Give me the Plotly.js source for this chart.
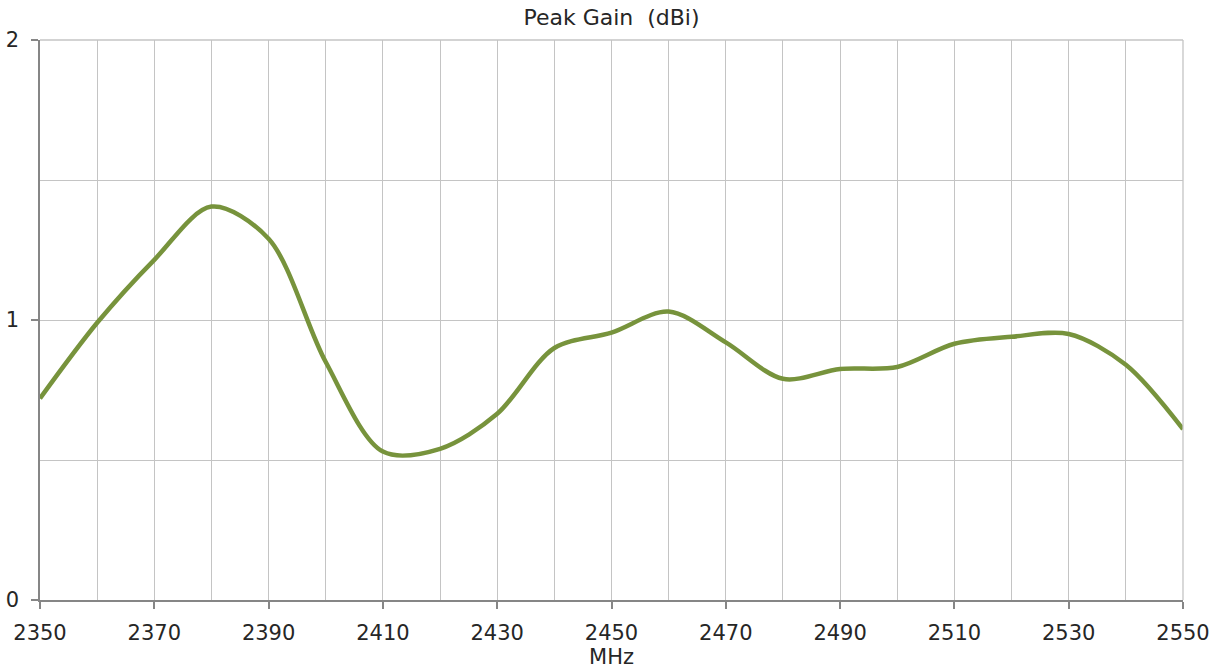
<!DOCTYPE html>
<html>
<head>
<meta charset="utf-8">
<script src="https://cdn.plot.ly/plotly-3.0.1.min.js"></script>
<style>html,body{margin:0;padding:0;background:#fff}#chart{width:1209px;height:671px}</style>
</head>
<body>
<div id="chart"></div>
<script>
const freqMHz = [2350,2360,2370,2380,2390,2400,2410,2420,2430,2440,2450,2460,2470,2480,2490,2500,2510,2520,2530,2540,2550];
const peakGain = [0.72,0.99,1.215,1.405,1.29,0.85,0.53,0.54,0.665,0.9,0.955,1.03,0.92,0.79,0.825,0.832,0.915,0.94,0.95,0.84,0.61];
const xTickVals = [2350,2370,2390,2410,2430,2450,2470,2490,2510,2530,2550];
const yTickVals = [0,1,2];

const FONT = "'DejaVu Sans', sans-serif";
const TXT = '#262626';
const GRID = '#c4c4c4';
const AXIS = '#868686';
const trace = {
  x: freqMHz, y: peakGain, type: 'scatter', mode: 'lines',
  line: {color: '#77933C', width: 4.5, shape: 'spline', smoothing: 0.9},
  hoverinfo: 'x+y'
};
const layout = {
  width: 1209, height: 671,
  margin: {l: 40, r: 26, t: 40, b: 71},
  paper_bgcolor: '#ffffff', plot_bgcolor: '#ffffff',
  showlegend: false,
  font: {family: FONT, color: TXT, size: 21},
  title: {text: 'Peak Gain&nbsp; (dBi)', font: {family: FONT, size: 22, color: TXT},
          x: 0.5, xref: 'paper', y: 0.974, yref: 'container', yanchor: 'middle'},
  xaxis: {
    range: [2350, 2550], tickvals: xTickVals, ticktext: xTickVals.map(String),
    showgrid: true, gridcolor: GRID, gridwidth: 1.3,
    minor: {dtick: 10, tick0: 2350, showgrid: true, gridcolor: GRID, gridwidth: 1.3, ticks: ''},
    showline: true, linecolor: AXIS, linewidth: 1.5,
    ticks: 'outside', ticklen: 7, tickcolor: AXIS, tickwidth: 1.5,
    ticklabelstandoff: 6, ticklabeloverflow: 'allow',
    tickfont: {family: FONT, size: 21, color: TXT},
    zeroline: false, fixedrange: true,
    title: {text: 'MHz', font: {family: FONT, size: 21, color: TXT}, standoff: 2}
  },
  yaxis: {
    range: [0, 2], tickvals: yTickVals, ticktext: yTickVals.map(String),
    showgrid: true, gridcolor: GRID, gridwidth: 1.3,
    minor: {dtick: 0.5, tick0: 0, showgrid: true, gridcolor: GRID, gridwidth: 1.3, ticks: ''},
    showline: true, linecolor: AXIS, linewidth: 1.5,
    ticks: 'outside', ticklen: 7, tickcolor: AXIS, tickwidth: 1.5,
    ticklabelstandoff: 8, ticklabeloverflow: 'allow',
    tickfont: {family: FONT, size: 21, color: TXT},
    zeroline: false, fixedrange: true
  },
  shapes: [
    {type: 'line', xref: 'paper', yref: 'paper', x0: 1, x1: 1, y0: 0, y1: 1, line: {color: GRID, width: 1.3}},
    {type: 'line', xref: 'paper', yref: 'paper', x0: 0, x1: 1, y0: 1, y1: 1, line: {color: GRID, width: 1.3}}
  ]
};
Plotly.newPlot('chart', [trace], layout, {displayModeBar: false});
</script>
</body>
</html>
